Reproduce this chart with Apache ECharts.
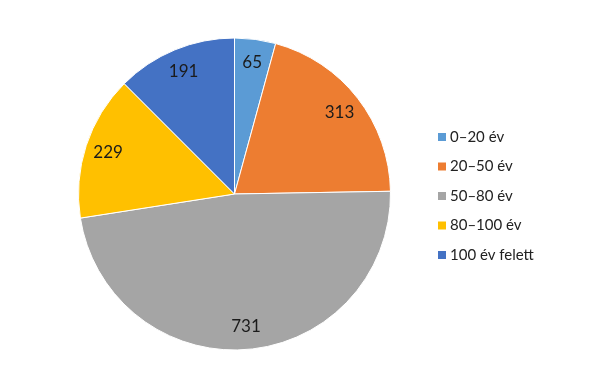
<!DOCTYPE html>
<html>
<head>
<meta charset="utf-8">
<script src="https://cdn.jsdelivr.net/npm/echarts@6/dist/echarts.min.js"></script>
<style>html,body{margin:0;padding:0;background:#fff;}#c{width:598px;height:390px;}</style>
</head>
<body>
<div id="c"></div>
<script>
const categories = ['0–20 év', '20–50 év', '50–80 év', '80–100 év', '100 év felett'];
const values = [65, 313, 731, 229, 191];
const colors = ['#5B9BD5', '#ED7D31', '#A5A5A5', '#FFC000', '#4472C4'];

const data = categories.map((n, i) => ({ name: n, value: values[i] }));
const font = 'Lato, "Open Sans", sans-serif';
const chart = echarts.init(document.getElementById('c'), null, { renderer: 'canvas' });
chart.setOption({
  animation: false,
  color: colors,
  legend: {
    orient: 'vertical',
    left: 431,
    top: 124,
    itemWidth: 10,
    itemHeight: 10,
    itemGap: 13.5,
    icon: 'rect',
    textStyle: { fontFamily: font, fontSize: 15, color: '#222', lineHeight: 16, padding: [0, 0, 0, -2] },
    data: categories
  },
  series: [
    {
      type: 'pie',
      center: [234.5, 194],
      radius: [0, 156],
      startAngle: 90,
      clockwise: true,
      label: { show: false },
      labelLine: { show: false },
      itemStyle: { borderColor: '#fff', borderWidth: 1 },
      data: data
    },
    {
      type: 'pie',
      center: [234.5, 194],
      radius: [104, 156],
      startAngle: 90,
      clockwise: true,
      silent: true,
      legendHoverLink: false,
      label: { show: true, position: 'inside', formatter: '{c}', fontFamily: font, fontSize: 17, color: '#1b1b1b' },
      labelLine: { show: false },
      itemStyle: { color: 'rgba(0,0,0,0)' },
      data: data
    }
  ]
});
</script>
</body>
</html>
